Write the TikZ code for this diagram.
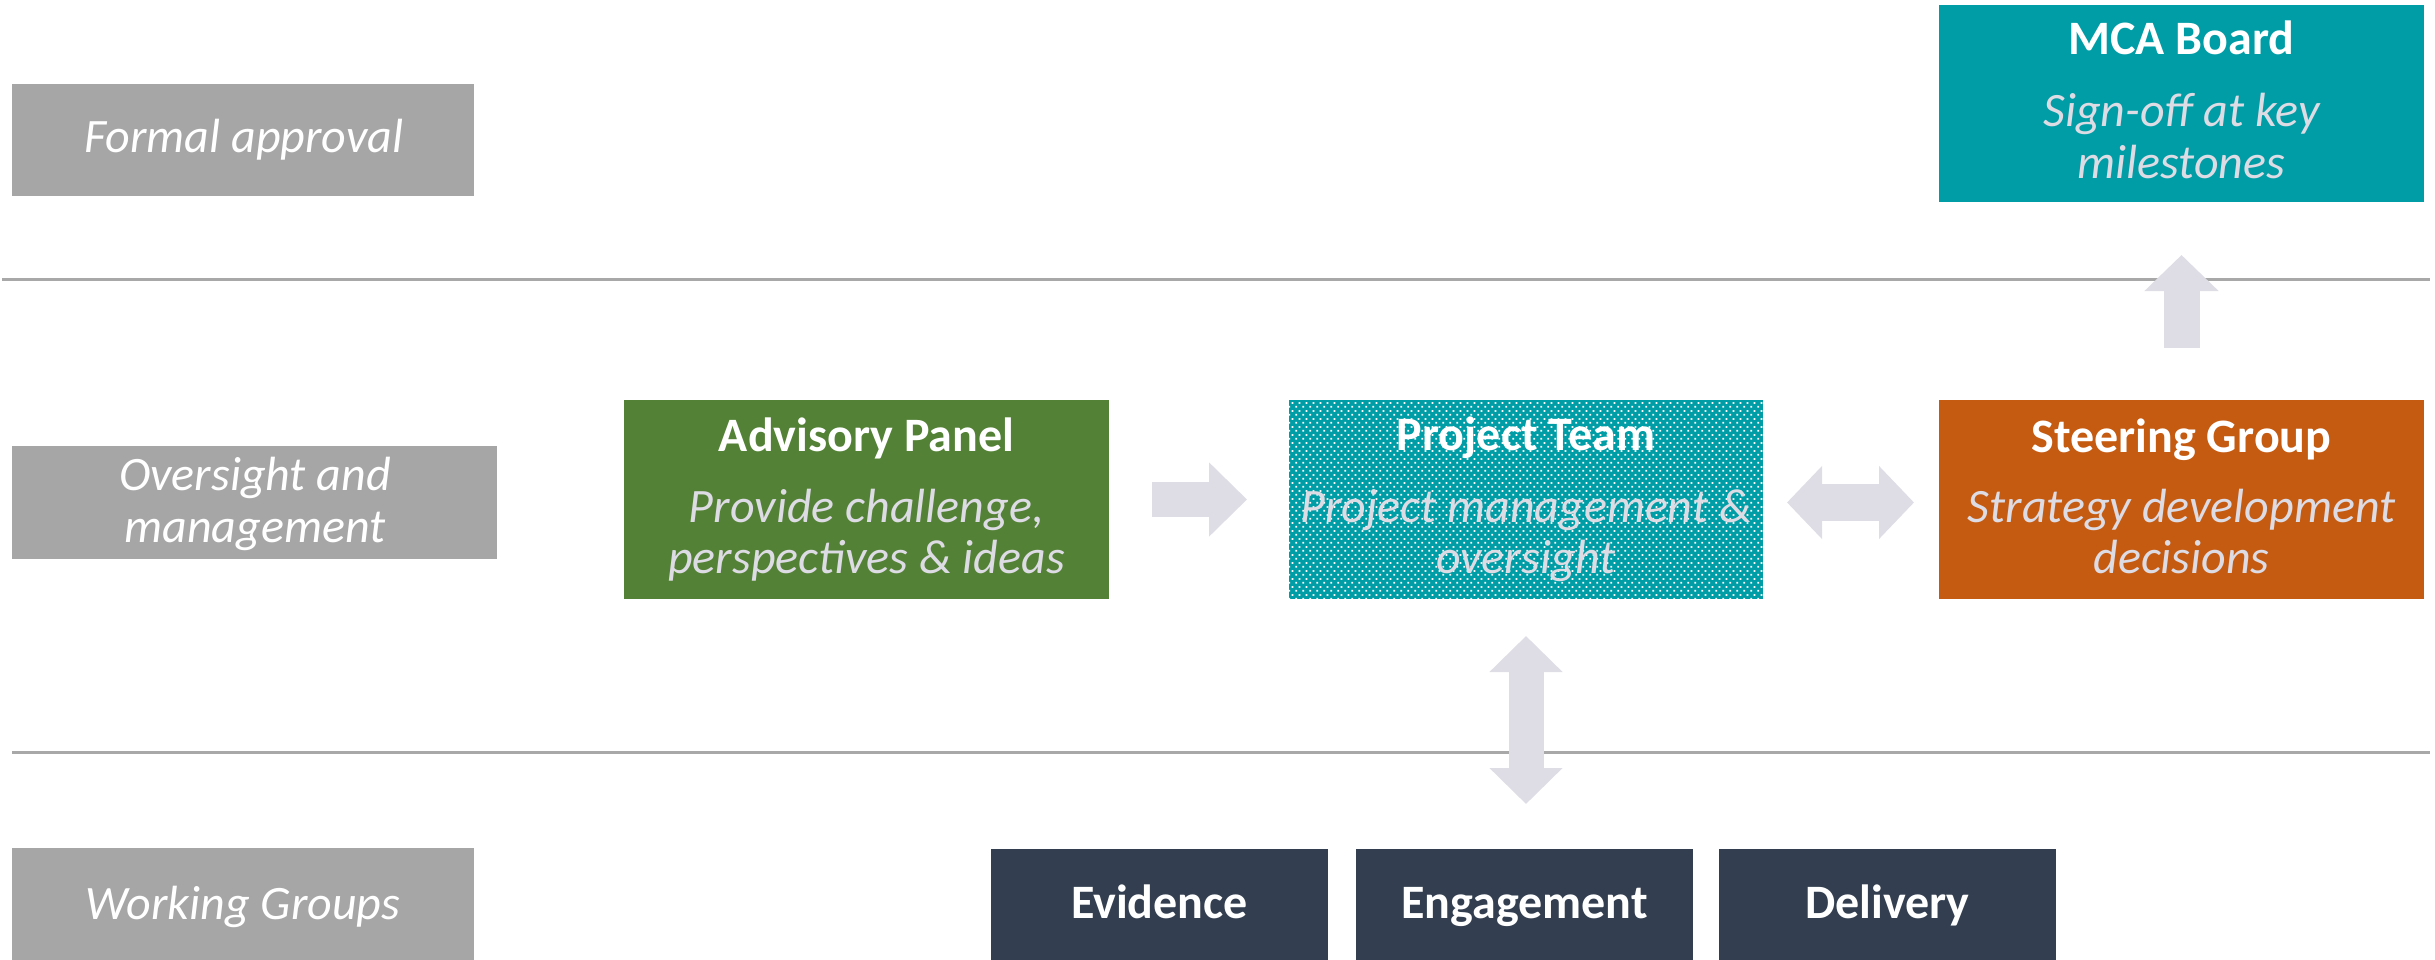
\documentclass[tikz,border=0pt]{standalone}
\usepackage{fontspec}
\setmainfont{Carlito}
\usetikzlibrary{arrows.meta,calc,patterns}
\definecolor{lblgray}{HTML}{A6A6A6}
\definecolor{rulegray}{HTML}{A8A8A8}
\definecolor{arrowgray}{HTML}{DEDCE4}
\definecolor{subgray}{HTML}{DDDBE3}
\definecolor{tealbox}{HTML}{009DA6}
\definecolor{greenbox}{HTML}{538135}
\definecolor{orangebox}{HTML}{C55A11}
\definecolor{navybox}{HTML}{333F50}
\pgfdeclarepatternformonly{ptdots}{\pgfpointorigin}{\pgfpoint{7pt}{8pt}}{\pgfpoint{7pt}{8pt}}{%
  \pgfpathrectangle{\pgfpoint{0.5pt}{0.5pt}}{\pgfpoint{2pt}{2pt}}%
  \pgfpathrectangle{\pgfpoint{4pt}{4.5pt}}{\pgfpoint{2pt}{2pt}}%
  \pgfusepath{fill}}
\tikzset{
  box/.style={rectangle, draw=none, inner sep=0pt, outer sep=0pt},
  lblbox/.style={box, fill=lblgray},
  titletext/.style={anchor=base, inner sep=0pt, text=white, font=\fontsize{48}{52}\selectfont\bfseries},
  subtext/.style={anchor=base, inner sep=0pt, text=subgray, font=\fontsize{48}{52}\selectfont\itshape},
  lbltext/.style={anchor=base, inner sep=0pt, text=white, font=\fontsize{48}{52}\selectfont\itshape},
  wgtext/.style={anchor=base, inner sep=0pt, text=white, font=\fontsize{48}{52}\selectfont\bfseries},
  rule/.style={draw=rulegray, line width=3pt},
  flow/.style={draw=arrowgray, line width=35pt},
}
\begin{document}
\begin{tikzpicture}[x=1pt,y=-1pt]
\useasboundingbox (0,0) rectangle (2435,960);
% separators
\coordinate (r1a) at (2,279);
\coordinate (r1b) at (2430,279);
\coordinate (r2a) at (12,752);
\coordinate (r2b) at (2430,752);
\draw[rule] (r1a) -- (r1b);
\draw[rule] (r2a) -- (r2b);
% left labels
\node[lblbox, minimum width=462pt, minimum height=112pt] (lfa) at (243,140) {};
\node[lblbox, minimum width=485pt, minimum height=113pt] (lom) at (254.5,502.5) {};
\node[lblbox, minimum width=462pt, minimum height=114pt] (lwg) at (243,905) {};
\node[lbltext] (lfa-t) at (244,153) {Formal approval};
\node[lbltext] (lom-t1) at (255,490) {Oversight and};
\node[lbltext] (lom-t2) at (255,542) {management};
\node[lbltext] (lwg-t) at (243,919) {Working Groups};
% main boxes
\node[box, fill=tealbox, minimum width=485pt, minimum height=197pt] (mca) at (2181.5,103.5) {};
\node[box, fill=greenbox, minimum width=485pt, minimum height=199pt] (adv) at (866.5,499.5) {};
\node[box, fill=tealbox, minimum width=474pt, minimum height=199pt] (pt) at (1526,499.5) {};
\fill[pattern=ptdots, pattern color=white] (pt.north west) rectangle (pt.south east);
\node[box, fill=orangebox, minimum width=485pt, minimum height=199pt] (sg) at (2181.5,499.5) {};
\node[box, fill=navybox, minimum width=337pt, minimum height=112pt] (ev) at (1159.5,905) {};
\node[box, fill=navybox, minimum width=337pt, minimum height=112pt] (en) at (1524.5,905) {};
\node[box, fill=navybox, minimum width=337pt, minimum height=112pt] (de) at (1887.5,905) {};
% texts
\node[titletext] (mca-t) at (2181.5,55) {MCA Board};
\node[subtext] (mca-s1) at (2181.5,127) {Sign-off at key};
\node[subtext] (mca-s2) at (2181.5,179) {milestones};
\node[titletext] (adv-t) at (866.5,451) {Advisory Panel};
\node[subtext] (adv-s1) at (866.5,522) {Provide challenge,};
\node[subtext] (adv-s2) at (866.5,573) {perspectives \& ideas};
\node[titletext] (pt-t) at (1526,450) {Project Team};
\node[subtext] (pt-s1) at (1526,522) {Project management \&};
\node[subtext] (pt-s2) at (1526,573) {oversight};
\node[titletext] (sg-t) at (2181.5,452) {Steering Group};
\node[subtext] (sg-s1) at (2181.5,522) {Strategy development};
\node[subtext] (sg-s2) at (2181.5,573) {decisions};
\node[wgtext] (ev-t) at (1159.5,918) {Evidence};
\node[wgtext] (en-t) at (1524.5,918) {Engagement};
\node[wgtext] (de-t) at (1887.5,918) {Delivery};
% arrows
\draw[flow, -{Triangle[length=38pt,width=72pt]}, shorten <=43pt, shorten >=42pt] (adv.east) -- (pt.west);
\draw[flow, line width=37pt, {Triangle[length=35pt,width=71pt]}-{Triangle[length=35pt,width=71pt]}, shorten <=24pt, shorten >=25pt] ($(pt.east)+(0,3)$) -- ($(sg.west)+(0,3)$);
\draw[flow, {Triangle[length=36pt,width=71pt]}-{Triangle[length=36pt,width=71pt]}, shorten <=37pt, shorten >=45pt] (pt.south) -- (pt.south |- en.north);
\draw[flow, line width=36pt, -{Triangle[length=36pt,width=72pt]}, shorten <=52pt, shorten >=53pt] (sg.north) -- (mca.south);
\end{tikzpicture}
\end{document}
